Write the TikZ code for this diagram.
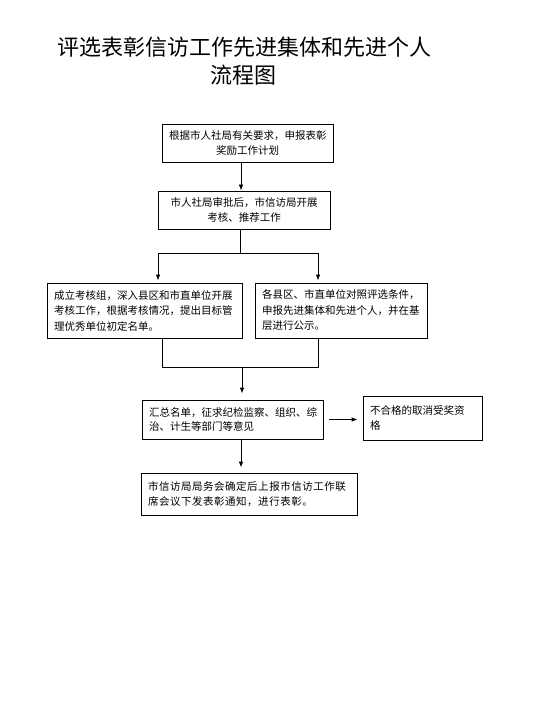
\documentclass[tikz,border=0pt]{standalone}
\usepackage{fontspec}
\setmainfont{Noto Sans CJK SC}
\usetikzlibrary{arrows.meta}
\tikzset{
  box/.style={draw, line width=0.8pt, inner xsep=7pt, inner ysep=2pt, font=\fontsize{10.5}{15.5}\selectfont, anchor=center},
  lbox/.style={box, align=left},
  cbox/.style={box, align=center},
  ln/.style={line width=0.8pt},
  arr/.style={ln, -{Latex[length=6pt,width=4.5pt]}},
  ttl/.style={font=\fontsize{22}{26}\selectfont}
}
\begin{document}
\begin{tikzpicture}[x=1pt,y=-1pt]
\useasboundingbox (0,0) rectangle (532,703);
\node[ttl] (t1) at (244,47) {评选表彰信访工作先进集体和先进个人};
\node[ttl] (t2) at (243,75) {流程图};

\node[cbox, minimum width=171pt, minimum height=38pt, text width=157pt] (b1) at (247.5,143) {根据市人社局有关要求，申报表彰\\奖励工作计划};
\node[cbox, minimum width=172pt, minimum height=38pt, text width=158pt] (b2) at (244,210) {市人社局审批后，市信访局开展\\考核、推荐工作};
\node[lbox, minimum width=195pt, minimum height=55pt, text width=181pt] (b3) at (144.5,310.5) {成立考核组，深入县区和市直单位开展\\考核工作，根据考核情况，提出目标管\\理优秀单位初定名单。};
\node[lbox, minimum width=172pt, minimum height=55pt, text width=158pt] (b4) at (341,310.5) {各县区、市直单位对照评选条件，\\申报先进集体和先进个人，并在基\\层进行公示。};
\node[lbox, minimum width=181pt, minimum height=39pt, text width=167pt, font=\fontsize{10.5}{14.5}\selectfont] (b5) at (232.5,419.5) {汇总名单，征求纪检监察、组织、综\\治、计生等部门等意见};
\node[lbox, minimum width=119pt, minimum height=44pt, text width=105pt, font=\fontsize{10.5}{15.5}\selectfont] (b6) at (422.5,418) {不合格的取消受奖资\\格};
\node[lbox, minimum width=216pt, minimum height=42pt, text width=202pt, font=\fontsize{10.5}{14.5}\selectfont\addfontfeature{LetterSpace=5}] (b7) at (249,494) {市信访局局务会确定后上报市信访工作联\\席会议下发表彰通知，进行表彰。};

\coordinate (x241) at (241,0);
\coordinate (x240) at (240,0);
\coordinate (sl) at (158,253);
\coordinate (sr) at (318,253);
\coordinate (sm) at (240,253);
\coordinate (ml) at (162,367);
\coordinate (mr) at (318,367);
\coordinate (mm) at (242,367);

\draw[arr] (b1.south -| x241) -- (b2.north -| x241);
\draw[ln] (b2.south -| x240) -- (sm);
\draw[ln] (sl) -- (sr);
\draw[arr, shorten >=2pt] (sl) -- (sl |- b3.north);
\draw[arr, shorten >=2pt] (sr) -- (sr |- b4.north);
\draw[ln] (b3.south -| ml) -- (ml) -- (mr) -- (b4.south -| mr);
\draw[arr, shorten >=6pt] (mm) -- (mm |- b5.north);
\draw[arr, shorten <=6pt, shorten >=5pt] (b5.east) -- (b6.west |- b5.east);
\draw[arr, shorten >=5pt] (b5.south -| x241) -- (b7.north -| x241);
\end{tikzpicture}
\end{document}
